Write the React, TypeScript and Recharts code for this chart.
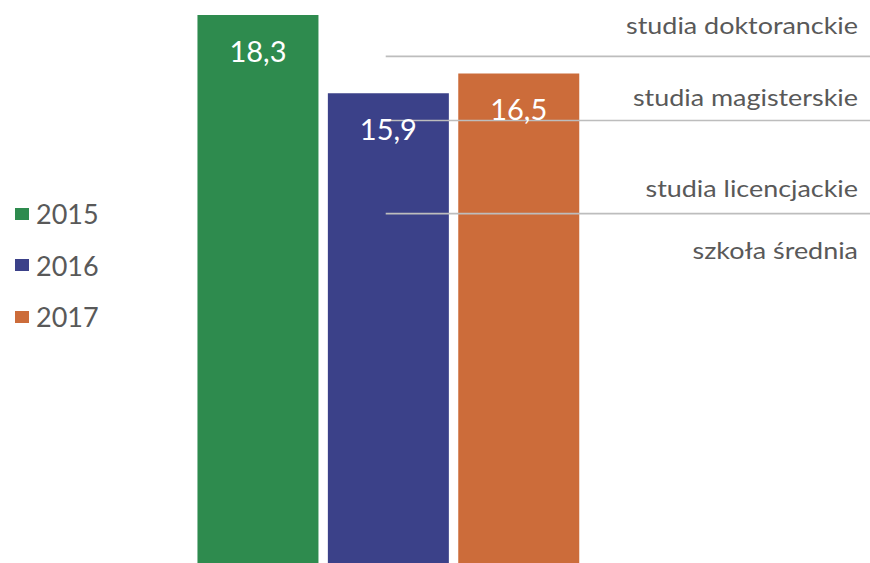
import React from 'react';
import { BarChart, Bar, XAxis, YAxis, Cell, LabelList, Legend, ReferenceLine } from 'recharts';

// categories / series
const years = ['2015', '2016', '2017'];
const values = [18.3, 15.9, 16.5];
const positions = [0, 1, 2];

// education levels (annotation lines, in value units)
const levelNames = ['studia doktoranckie', 'studia magisterskie', 'studia licencjackie', 'szkoła średnia'];
const levelValues = [17.03, 15.06, 12.2, 10.3];
const levelStarts = [0.982, 1.015, 0.982, 0.982];
const levelVisible = [true, true, true, false];

// styles
const colors = ['#2E8B4E', '#3B4189', '#CC6C3A'];
const labelGaps = [22.7, 15, 16.6, 17];
const X_DOMAIN: [number, number] = [-1.976, 4.696];
const Y_DOMAIN: [number, number] = [0, 18.3];
const TEXT = '#595959';
const LINE = '#BDBDBD';

const data = years.map((y, i) => ({ year: y, x: positions[i], value: values[i] }));

const fmt = (v: any) => String(v).replace('.', ',');

const renderLegend = () => (
  <div style={{ fontFamily: 'Lato', fontSize: 27, color: TEXT }}>
    {years.map((y, i) => (
      <div
        key={y}
        style={{ display: 'flex', alignItems: 'center', height: 51.5, lineHeight: '51.5px' }}
      >
        <span
          style={{ width: 14, height: 12, background: colors[i], marginRight: 7, display: 'inline-block' }}
        />
        <span>{y}</span>
      </div>
    ))}
  </div>
);

const makeLabel = (i: number) => (props: any) => {
  const vb = props.viewBox || {};
  const tx = (vb.x || 0) + (vb.width || 0) - 12;
  const ty = (vb.y || 0) - labelGaps[i];
  return (
    <text
      transform={`translate(${tx},${ty}) scale(1.17,1)`}
      x={0}
      y={0}
      textAnchor="end"
      fill={TEXT}
      fontSize={23}
      fontFamily="Lato"
    >
      {levelNames[i]}
    </text>
  );
};

export default function App() {
  return (
    <div
      style={{
        position: 'absolute',
        left: 0,
        top: 0,
        width: 870,
        height: 563,
        overflow: 'hidden',
        background: '#fff',
        fontFamily: 'Lato',
      }}
    >
      <BarChart width={870} height={611} data={data} margin={{ top: 15, right: 0, bottom: 0, left: 0 }}>
        <XAxis type="number" dataKey="x" domain={X_DOMAIN} hide allowDataOverflow />
        <YAxis type="number" domain={Y_DOMAIN} hide />
        <Legend
          layout="vertical"
          align="center"
          verticalAlign="middle"
          content={renderLegend}
          wrapperStyle={{ left: 15, top: 188, width: 'auto', height: 'auto' }}
        />
        <Bar dataKey="value" barSize={121} isAnimationActive={false}>
          {data.map((d, i) => (
            <Cell key={d.year} fill={colors[i]} />
          ))}
          <LabelList
            dataKey="value"
            position="insideTop"
            offset={26}
            fill="#ffffff"
            fontSize={29}
            fontFamily="Lato"
            formatter={fmt}
          />
        </Bar>
        {levelNames.map((name, i) => (
          <ReferenceLine
            key={name}
            segment={[
              { x: levelStarts[i], y: levelValues[i] },
              { x: X_DOMAIN[1], y: levelValues[i] },
            ]}
            stroke={levelVisible[i] ? LINE : 'none'}
            strokeWidth={1.6}
            ifOverflow="visible"
            label={makeLabel(i)}
          />
        ))}
      </BarChart>
    </div>
  );
}
